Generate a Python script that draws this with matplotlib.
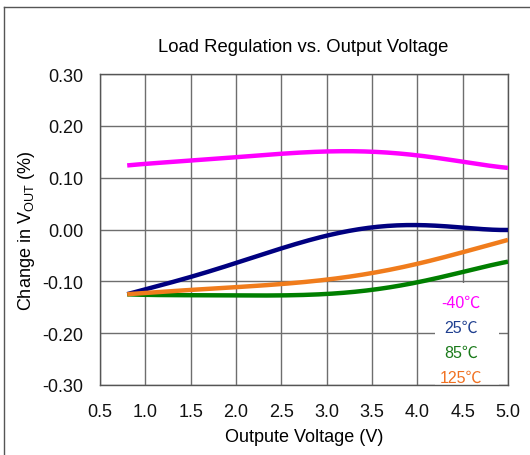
import matplotlib
matplotlib.use("Agg")
import matplotlib.pyplot as plt
from matplotlib.lines import Line2D
from matplotlib.patches import Rectangle
import numpy as np

plt.rcParams['font.family'] = ['Liberation Sans', 'DejaVu Sans']

vout = [0.8, 1.0, 1.5, 2.0, 2.5, 3.0, 3.25, 3.5, 4.0, 4.5, 5.0]
m40 = [0.124, 0.126, 0.133, 0.140, 0.146, 0.150, 0.151, 0.150, 0.144, 0.130, 0.119]
t25 = [-0.125, -0.115, -0.092, -0.064, -0.037, -0.012, -0.002, 0.004, 0.008, 0.004, -0.001]
t85 = [-0.125, -0.126, -0.127, -0.127, -0.127, -0.125, -0.121, -0.116, -0.102, -0.082, -0.062]
t125 = [-0.125, -0.122, -0.117, -0.111, -0.105, -0.097, -0.091, -0.084, -0.066, -0.044, -0.020]

series = [("-40℃", m40, "#ff00ff"), ("25℃", t25, "#000080"),
          ("85℃", t85, "#007f00"), ("125℃", t125, "#f07c1c")]
label_colors = {"-40℃": "#ff00ff", "25℃": "#1f3f8f", "85℃": "#1a7a1a", "125℃": "#f07020"}

fig = plt.figure(figsize=(5.30, 4.56), dpi=100)
ax = fig.add_axes([100/530, 1-386/456, 408/530, 311/456])

xs = np.array(vout)
for name, ys, c in series:
    xd = np.linspace(xs[0], xs[-1], 200)
    coef = np.polyfit(xs, ys, 5)
    yd = np.polyval(coef, xd)
    ax.plot(xd, yd, color=c, lw=3.2, solid_capstyle='butt', zorder=3)

ax.set_xlim(0.5, 5.0)
ax.set_ylim(-0.30, 0.30)
xt = np.arange(0.5, 5.01, 0.5)
yt = np.arange(-0.30, 0.301, 0.10)
ax.set_xticks(xt)
ax.set_yticks(yt)
ax.set_xticklabels([f"{v:.1f}" for v in xt])
ax.set_yticklabels([f"{v:.2f}" if abs(v) > 1e-9 else "0.00" for v in yt])
ax.tick_params(length=0, labelsize=13, colors='#111111')
ax.tick_params(axis='x', pad=13)
ax.tick_params(axis='y', pad=12)
ax.grid(True, color='#6e6e6e', lw=1.0)
for s in ax.spines.values():
    s.set_color('#555555')
    s.set_linewidth(1.0)

ax.set_xlabel("Outpute Voltage (V)", fontsize=13, labelpad=6)
ax.set_ylabel(r"Change in V$_{\mathregular{OUT}}$ (%)", fontsize=13, labelpad=4)
fig.text(303/530, 1-47/456, "Load Regulation vs. Output Voltage", ha='center', va='center', fontsize=13.3)

# white label area hiding the gridlines behind the temperature labels
ax.add_patch(Rectangle((4.19, -0.30), 0.71, 0.197, facecolor='white', edgecolor='none', zorder=2))

ly = [-0.140, -0.188, -0.237, -0.285]
for (name, _, _), y in zip(series, ly):
    ax.text(4.48, y, name, color=label_colors[name], ha='center', va='center', fontsize=11.5,
            family=['Liberation Sans', 'Noto Sans CJK JP', 'DejaVu Sans'], zorder=4)

fig.add_artist(Line2D([4/530, 1], [1-8/456, 1-8/456], transform=fig.transFigure, color='#555555', lw=1))
fig.add_artist(Line2D([4/530, 4/530], [0, 1-8/456], transform=fig.transFigure, color='#555555', lw=1))

fig.savefig("out.png", dpi=100)
